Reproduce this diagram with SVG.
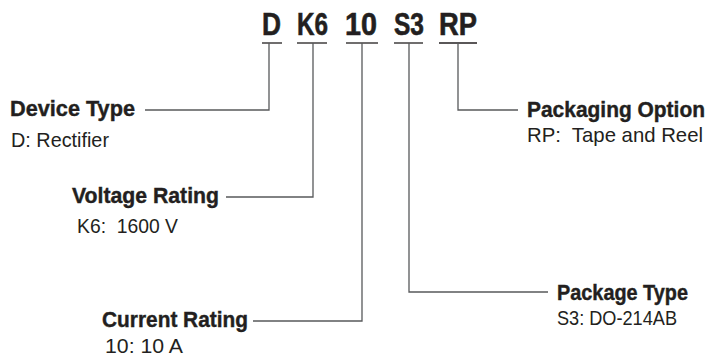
<svg xmlns="http://www.w3.org/2000/svg" width="709" height="360" viewBox="0 0 709 360">
<style>
.code{font-family:"Liberation Sans",Arial,sans-serif;font-weight:bold;font-size:31px;fill:#231f20;stroke:#231f20;stroke-width:0.6}
.title{font-family:"Liberation Sans",Arial,sans-serif;font-weight:bold;font-size:21.5px;fill:#231f20;stroke:#231f20;stroke-width:0.4}
.desc{font-family:"Liberation Sans",Arial,sans-serif;font-size:21px;fill:#231f20}
.ln{fill:none;stroke:#58595b;stroke-width:1.3}
.ul{stroke:#231f20;stroke-width:1.3}
</style>
<rect width="709" height="360" fill="#fff"/>
<g id="code">
<text class="code" x="262" y="35" textLength="19" lengthAdjust="spacingAndGlyphs">D</text>
<text class="code" x="297" y="35" textLength="31" lengthAdjust="spacingAndGlyphs">K6</text>
<text class="code" x="345" y="35" textLength="32" lengthAdjust="spacingAndGlyphs">10</text>
<text class="code" x="394" y="35" textLength="30" lengthAdjust="spacingAndGlyphs">S3</text>
<text class="code" x="439" y="35" textLength="38" lengthAdjust="spacingAndGlyphs">RP</text>
<line class="ul" x1="262" y1="43" x2="282" y2="43"/>
<line class="ul" x1="297" y1="43" x2="327" y2="43"/>
<line class="ul" x1="346" y1="43" x2="378" y2="43"/>
<line class="ul" x1="394" y1="43" x2="423" y2="43"/>
<line class="ul" x1="439" y1="43" x2="477" y2="43"/>
</g>
<g id="connectors">
<polyline class="ln" points="269,43 269,110 145,110"/>
<polyline class="ln" points="313,43 313,197 226,197"/>
<polyline class="ln" points="362,43 362,321 253,321"/>
<polyline class="ln" points="409,43 409,292 548,292"/>
<polyline class="ln" points="458,43 458,110 518,110"/>
</g>
<g id="device-type">
<text class="title" x="10" y="116" textLength="125" lengthAdjust="spacingAndGlyphs">Device Type</text>
<text class="desc" x="11" y="147" textLength="98" lengthAdjust="spacingAndGlyphs">D: Rectifier</text>
</g>
<g id="voltage-rating">
<text class="title" x="72" y="203" textLength="147" lengthAdjust="spacingAndGlyphs">Voltage Rating</text>
<text class="desc" x="77" y="233" textLength="101" lengthAdjust="spacingAndGlyphs" xml:space="preserve">K6:  1600 V</text>
</g>
<g id="current-rating">
<text class="title" x="102" y="327" textLength="146" lengthAdjust="spacingAndGlyphs">Current Rating</text>
<text class="desc" x="105" y="353" textLength="78" lengthAdjust="spacingAndGlyphs">10: 10 A</text>
</g>
<g id="package-type">
<text class="title" x="557" y="300" textLength="131" lengthAdjust="spacingAndGlyphs">Package Type</text>
<text class="desc" x="557" y="325" textLength="120" lengthAdjust="spacingAndGlyphs">S3: DO-214AB</text>
</g>
<g id="packaging-option">
<text class="title" x="527" y="117" textLength="178" lengthAdjust="spacingAndGlyphs">Packaging Option</text>
<text class="desc" x="527" y="142" textLength="176" lengthAdjust="spacingAndGlyphs" xml:space="preserve">RP:  Tape and Reel</text>
</g>
</svg>
